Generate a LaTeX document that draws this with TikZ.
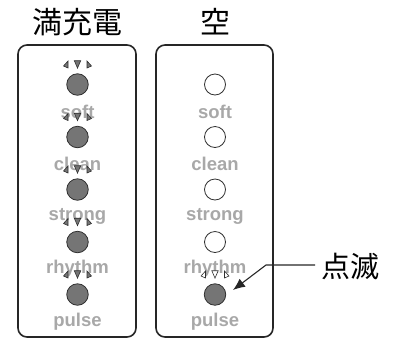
\documentclass[tikz,border=0pt]{standalone}
\usepackage{fontspec}
\setmainfont{Liberation Sans}
\newfontfamily\cjk{Noto Sans CJK JP}
\usetikzlibrary{arrows.meta}
\definecolor{ledgray}{HTML}{757575}
\definecolor{edgegray}{HTML}{303030}
\definecolor{labgray}{HTML}{A8A8A8}
\tikzset{
  panel/.style={draw=black!85, line width=1.6pt, rounded corners=9pt},
  ledon/.style={circle, draw=edgegray, line width=0.8pt, fill=ledgray, minimum size=21.5pt, inner sep=0pt},
  ledoff/.style={circle, draw=edgegray, line width=0.8pt, fill=white, minimum size=21pt, inner sep=0pt},
  modelabel/.style={text=labgray, font=\bfseries\fontsize{18.5}{20}\selectfont, inner sep=0pt},
  title/.style={font=\cjk\fontsize{30}{32}\selectfont, inner sep=0pt},
  raytri/.style={draw=edgegray, line width=0.6pt, line join=miter},
  pointer/.style={draw=black!85, line width=1.1pt, -{Latex[length=12pt,width=10pt]}}
}
\newcommand\ledrays[3]{%
  \path[raytri, fill=#3] (#1-14,#2+1.5) -- (#1-9.5,#2-3.5) -- (#1-9.5,#2+3.5) -- cycle;
  \path[raytri, fill=#3] (#1-3.2,#2-3.8) -- (#1+3.2,#2-3.8) -- (#1,#2+3.6) -- cycle;
  \path[raytri, fill=#3] (#1+14,#2+1.5) -- (#1+9.5,#2-3.5) -- (#1+9.5,#2+3.5) -- cycle;
}
\begin{document}
\begin{tikzpicture}[x=1pt,y=-1pt]
\useasboundingbox (0,0) rectangle (395,338);
% titles
\node[title] (T1) at (77,22) {満充電};
\node[title] (T2) at (215,22) {空};
% panels
\draw[panel] (18,45) rectangle (136,337);
\draw[panel] (156,45) rectangle (273,337);
% labels (drawn first so rays sit on top)
\foreach \lab [count=\i] in {soft,clean,strong,rhythm,pulse}{
  \pgfmathsetmacro\yy{84.5+52.5*(\i-1)+27}
  \node[modelabel] (LL\i) at (77.5,\yy) {\lab};
  \node[modelabel] (RL\i) at (215,\yy) {\lab};
}
% left panel: all lit
\foreach \i in {1,...,5}{
  \pgfmathsetmacro\yy{84.5+52.5*(\i-1)}
  \node[ledon] (L\i) at (77.5,\yy) {};
  \pgfmathsetmacro\ry{\yy-20}
  \ledrays{77.5}{\ry}{ledgray}
}
% right panel
\foreach \i in {1,...,4}{
  \pgfmathsetmacro\yy{84.5+52.5*(\i-1)}
  \node[ledoff] (R\i) at (215,\yy) {};
}
\node[ledon] (R5) at (215,294.5) {};
\ledrays{215}{274.5}{white}
% blink callout
\node[font=\cjk\fontsize{29}{31}\selectfont, inner sep=0pt, anchor=west] (K) at (321,266) {点滅};
\coordinate (bend) at (266,265);
\coordinate (tip) at (233,290);
\draw[pointer] (K.west) ++(-6,-1) coordinate (kstart) (kstart) -- (bend) -- (tip);
\end{tikzpicture}
\end{document}
